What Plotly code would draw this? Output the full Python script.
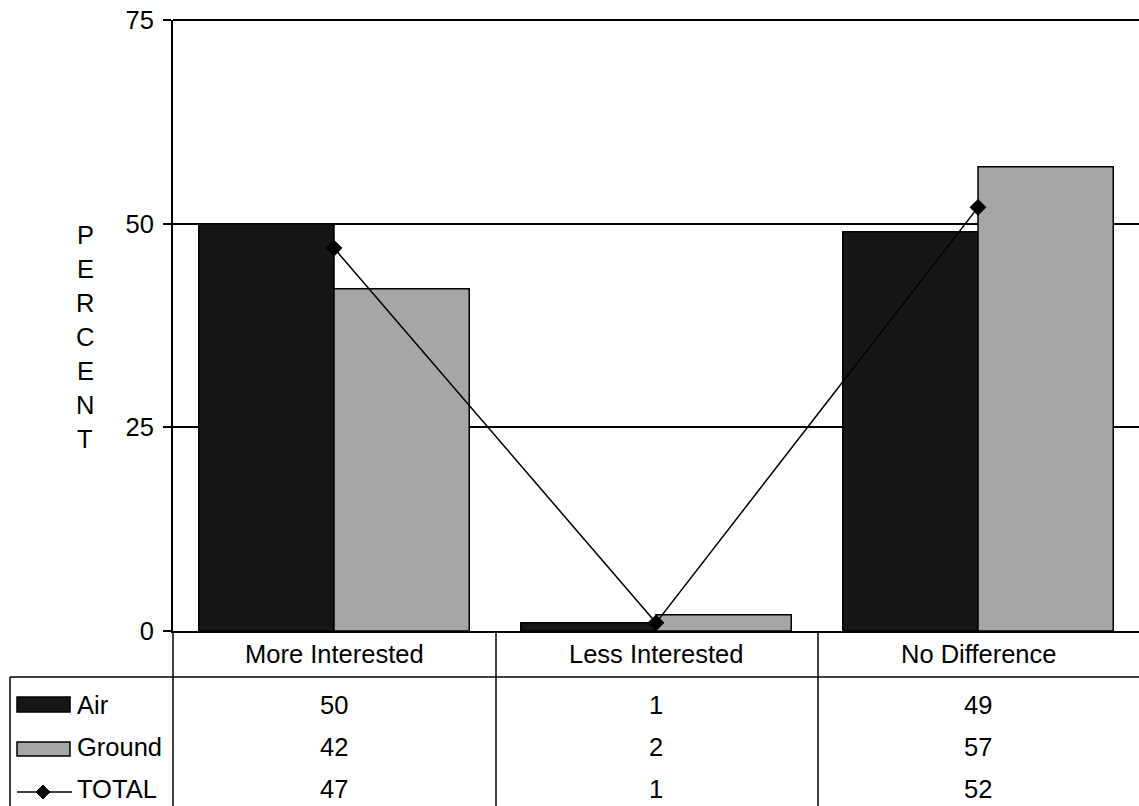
import plotly.graph_objects as go

categories = ["More Interested", "Less Interested", "No Difference"]
air = [50, 1, 49]
ground = [42, 2, 57]
total = [47, 1, 52]
series_names = ["Air", "Ground", "TOTAL"]
y_ticks = [0, 25, 50, 75]
axis_title_letters = list("PERCENT")

W, H = 1139, 806
L, R, T, B = 173, 0, 20, 175
PW = W - L - R
PH = H - T - B
FONT = "Liberation Sans, Arial, sans-serif"
FS = 25.5


def px(x):
    return (x - L) / PW


def py(y):
    return (H - B - y) / PH


fig = go.Figure()
fig.add_trace(go.Bar(x=categories, y=air, name="Air",
                     marker=dict(color="#161616", line=dict(color="black", width=1.5))))
fig.add_trace(go.Bar(x=categories, y=ground, name="Ground",
                     marker=dict(color="#a6a6a6", line=dict(color="black", width=1.5))))
fig.add_trace(go.Scatter(x=categories, y=total, name="TOTAL", mode="lines+markers",
                         line=dict(color="black", width=1.5),
                         marker=dict(symbol="diamond", size=13, color="black")))

shapes = []
line_style = dict(color="black", width=1.5)
# table horizontal line
shapes.append(dict(type="line", xref="paper", yref="paper", x0=px(10), x1=px(W), y0=py(677), y1=py(677), line=line_style))
# table left edge
shapes.append(dict(type="line", xref="paper", yref="paper", x0=px(10), x1=px(10), y0=py(677), y1=py(H + 5), line=line_style))
# vertical separators
for xv in [173, 496, 818]:
    shapes.append(dict(type="line", xref="paper", yref="paper", x0=px(xv), x1=px(xv), y0=0, y1=py(H + 5), line=line_style))
# top border
shapes.append(dict(type="line", xref="paper", yref="paper", x0=0, x1=1, y0=1, y1=1, line=dict(color="black", width=2)))
# legend keys
shapes.append(dict(type="rect", xref="paper", yref="paper", x0=px(17), x1=px(70), y0=py(712), y1=py(697),
                   fillcolor="#161616", line=dict(color="black", width=1.5)))
shapes.append(dict(type="rect", xref="paper", yref="paper", x0=px(17), x1=px(70), y0=py(756), y1=py(742),
                   fillcolor="#a6a6a6", line=dict(color="black", width=1.5)))
shapes.append(dict(type="line", xref="paper", yref="paper", x0=px(17), x1=px(72), y0=py(792), y1=py(792),
                   line=line_style))
# diamond for TOTAL legend key
shapes.append(dict(type="path", xref="paper", yref="paper",
                   path="M {} {} L {} {} L {} {} L {} {} Z".format(px(36), py(792), px(43), py(785),
                                                                   px(50), py(792), px(43), py(799)),
                   fillcolor="black", line=dict(color="black", width=1)))

annotations = []
for c in categories:
    annotations.append(dict(x=c, xref="x", y=py(654), yref="paper", text=c, showarrow=False,
                            xanchor="center", yanchor="middle", font=dict(family=FONT, size=FS, color="black")))
row_y = [705, 747, 789]
for vals, ry in zip([air, ground, total], row_y):
    for c, v in zip(categories, vals):
        annotations.append(dict(x=c, xref="x", y=py(ry), yref="paper", text=str(v), showarrow=False,
                                xanchor="center", yanchor="middle", font=dict(family=FONT, size=FS, color="black")))
for name, ry in zip(series_names, row_y):
    annotations.append(dict(x=px(75), xref="paper", y=py(ry), yref="paper", text=name, showarrow=False,
                            xanchor="left", yanchor="middle", font=dict(family=FONT, size=FS, color="black")))
for i, ch in enumerate(axis_title_letters):
    annotations.append(dict(x=px(85), xref="paper", y=py(235 + i * 34), yref="paper", text=ch, showarrow=False,
                            xanchor="center", yanchor="middle", font=dict(family=FONT, size=FS, color="black")))

fig.update_layout(
    width=W, height=H,
    margin=dict(l=L, r=R, t=T, b=B, pad=0),
    paper_bgcolor="white", plot_bgcolor="white",
    barmode="group", bargap=0.16, bargroupgap=0,
    showlegend=False,
    font=dict(family=FONT, size=FS, color="black"),
    shapes=shapes, annotations=annotations,
    xaxis=dict(range=[-0.5, 2.5], showticklabels=False, ticks="", showgrid=False,
               showline=True, linecolor="black", linewidth=2, zeroline=False, fixedrange=True),
    yaxis=dict(range=[0, 75], tickvals=y_ticks, ticks="outside", ticklen=8, tickwidth=1.5,
               tickcolor="black", showgrid=True, gridcolor="black", gridwidth=1.5,
               showline=True, linecolor="black", linewidth=2, zeroline=False,
               tickfont=dict(family=FONT, size=FS, color="black"), ticklabelstandoff=4),
)

fig.write_html("out.html", config={"displayModeBar": False},
               post_script="document.body.style.margin='0';document.body.style.padding='0';")
